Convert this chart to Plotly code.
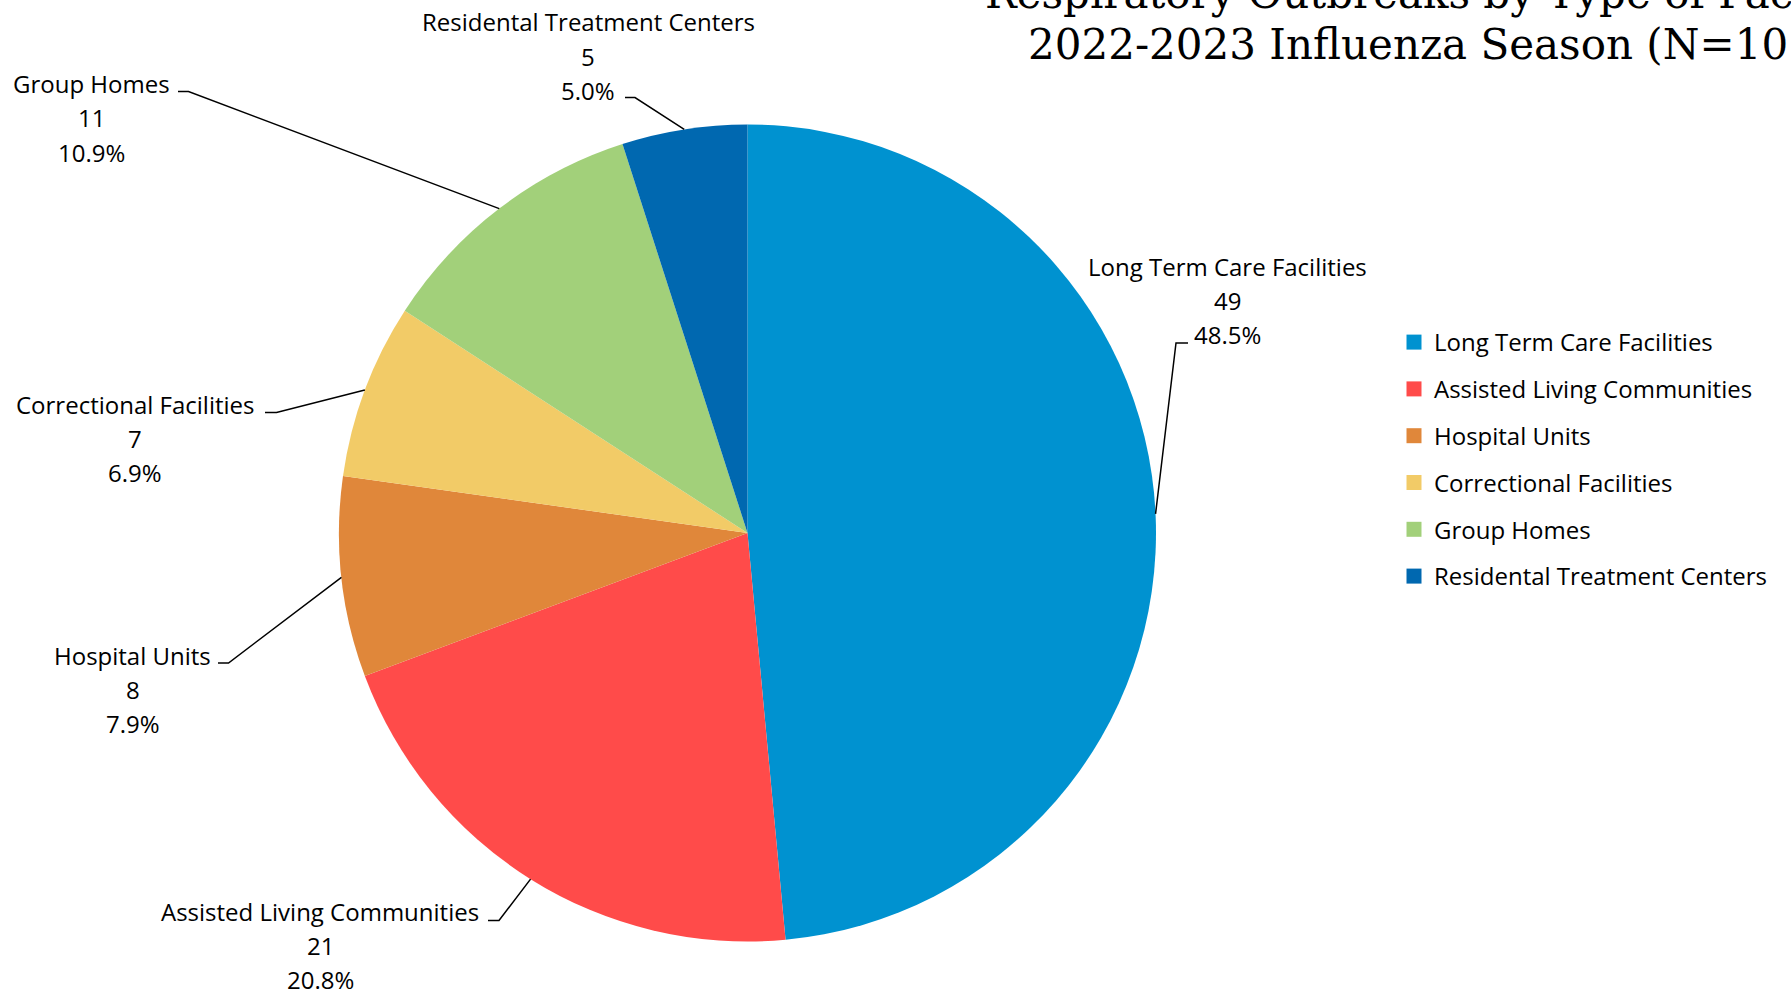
import math
import plotly.graph_objects as go

# Outbreak counts by facility type, 2022-2023 influenza season
categories = [
    "Long Term Care Facilities",
    "Assisted Living Communities",
    "Hospital Units",
    "Correctional Facilities",
    "Group Homes",
    "Residental Treatment Centers",
]
counts = [49, 21, 8, 7, 11, 5]
colors = ["#0092D0", "#FF4B4A", "#E0873A", "#F2CB67", "#A2D07A", "#0068B0"]

title_lines = [
    "Respiratory Outbreaks by Type of Facility",
    "2022-2023 Influenza Season (N=101)",
]

W, H = 1791, 993
CX, CY, R = 747.5, 533.0, 408.5          # pie centre and radius in pixels

# label block (centre x, first line y) and leader elbow / end points, pixels
label_pos = [(1227, 266), (320, 911), (132.5, 655), (135, 404), (91.4, 83.5), (588, 22)]
leader_pts = [
    [(1176, 343), (1188, 343)],
    [(499, 920.5), (488, 920.5)],
    [(228.5, 663), (218, 663)],
    [(276.5, 412.5), (265, 412.5)],
    [(188.5, 91.5), (178, 91.5)],
    [(635, 97.5), (625, 97.5)],
]
LINE_GAP = 34.3

LABEL_FONT = dict(family="Open Sans", size=24, color="#000000")


def px(x):
    return x / W


def py(y):
    return 1 - y / H


fig = go.Figure()

fig.add_trace(go.Pie(
    labels=categories,
    values=counts,
    sort=False,
    direction="clockwise",
    rotation=0,
    marker=dict(colors=colors, line=dict(width=0)),
    textinfo="none",
    hoverinfo="label+value+percent",
    showlegend=False,
    domain=dict(x=[px(CX - R), px(CX + R)], y=[py(CY + R), py(CY - R)]),
))

# legend entries, one group each so the rows can be spaced apart
for name, col in zip(categories, colors):
    fig.add_trace(go.Scatter(
        x=[None], y=[None], mode="markers", name=name,
        legendgroup=name,
        marker=dict(symbol="square", size=15, color=col),
    ))

total = sum(counts)
annotations = []
shapes = []
cum = 0
for name, v, (lx, ly), pts in zip(categories, counts, label_pos, leader_pts):
    mid = (cum + v / 2) / total * 2 * math.pi
    cum += v
    ex = CX + R * math.sin(mid)
    ey = CY - R * math.cos(mid)
    path = f"M {px(ex)},{py(ey)}"
    for (qx, qy) in pts:
        path += f" L {px(qx)},{py(qy)}"
    shapes.append(dict(type="path", xref="paper", yref="paper", path=path,
                       line=dict(color="#000000", width=1.5)))
    for i, t in enumerate([name, f"{v}", f"{v / total * 100:.1f}%"]):
        annotations.append(dict(
            x=px(lx), y=py(ly + i * LINE_GAP), xref="paper", yref="paper",
            text=t, showarrow=False, xanchor="center", yanchor="middle",
            font=LABEL_FONT,
        ))

TITLE_FONT = dict(family="DejaVu Serif", size=42, color="#000000")
for t, yc in zip(title_lines, [-7, 44]):
    annotations.append(dict(
        x=px(1429), y=py(yc), xref="paper", yref="paper", text=t,
        showarrow=False, xanchor="center", yanchor="middle", font=TITLE_FONT,
    ))

fig.update_layout(
    width=W, height=H,
    margin=dict(l=0, r=0, t=0, b=0),
    paper_bgcolor="#FFFFFF",
    plot_bgcolor="#FFFFFF",
    xaxis=dict(visible=False),
    yaxis=dict(visible=False),
    showlegend=True,
    legend=dict(
        x=px(1394), y=py(320), xanchor="left", yanchor="top",
        font=LABEL_FONT, tracegroupgap=12.6, traceorder="grouped",
        bgcolor="rgba(0,0,0,0)",
    ),
    annotations=annotations,
    shapes=shapes,
)

fig.write_html("out.html")
